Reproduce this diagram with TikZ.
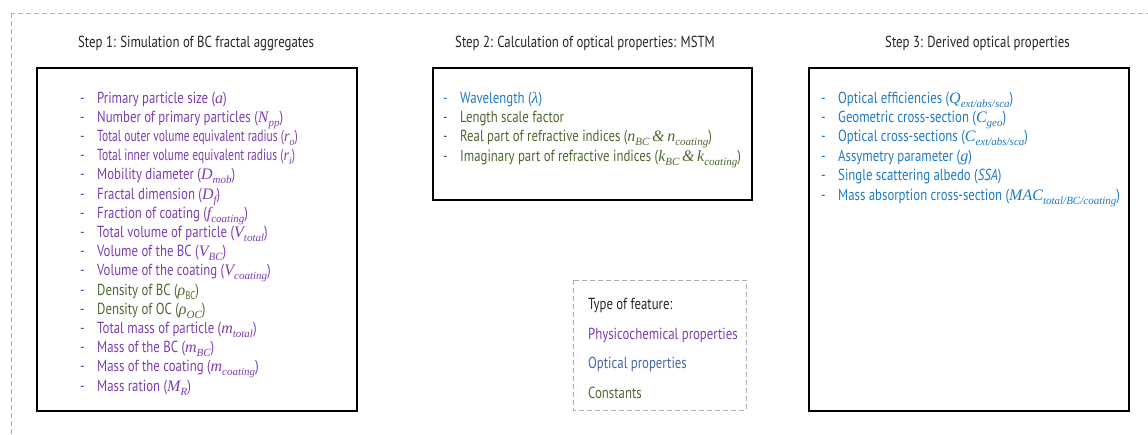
\documentclass[tikz,border=0pt]{standalone}
\usepackage{graphicx}
\usepackage{fontspec}
\setmainfont{PT Sans}[FakeStretch=0.8]
\newfontfamily\serifit{Liberation Serif}
\definecolor{pur}{RGB}{125,62,180}
\definecolor{blu}{RGB}{32,122,200}
\definecolor{grn}{RGB}{78,104,48}
\definecolor{lblu}{RGB}{68,102,172}
\definecolor{frame}{RGB}{175,175,175}
\newcommand\vr[1]{{\serifit\itshape #1}}
\newcommand\sbs[1]{\raisebox{-0.25em}{\fontsize{11}{11}\selectfont\serifit\itshape #1}}
\tikzset{
  txt/.style={anchor=base west, inner sep=0pt, font=\fontsize{16}{19}\selectfont},
  ttl/.style={txt, text=black!85},
  dsh/.style={txt},
  solidbox/.style={draw=black, line width=1.3pt},
  dashbox/.style={draw=frame, line width=1pt, dash pattern=on 5pt off 3pt},
}
\begin{document}
\begin{tikzpicture}[x=1pt,y=-1pt]
\clip (0,0) rectangle (1148,434);
\fill[white] (0,0) rectangle (1148,434);
\draw[dashbox] (11,13) rectangle (1170,460);
% boxes
\draw[solidbox] (37,68) rectangle (357,411);
\draw[solidbox] (433,68) rectangle (752,200);
\draw[solidbox] (809,68) rectangle (1129,411);
\draw[dashbox] (573,280) rectangle (746,410);
% titles
\node[ttl] (t1) at (78,47) {Step 1: Simulation of BC fractal aggregates};
\node[ttl] (t2) at (455,47) {Step 2: Calculation of optical properties: MSTM};
\node[ttl] (t3) at (885,47) {Step 3: Derived optical properties};
% box 1
\begin{scope}[every node/.append style={text=pur}]
\node[dsh] (d1) at (80,103) {-};
\node[txt] (a1) at (97,103) {Primary particle size (\vr{a})};
\node[dsh] (d2) at (80,122.2) {-};
\node[txt] (a2) at (97,122.2) {Number of primary particles (\vr{N}\sbs{pp})};
\node[dsh] (d3) at (80,141.4) {-};
\node[txt] (a3) at (97,141.4) {\scalebox{0.9}[1]{Total outer volume equivalent radius (\vr{r}\sbs{o})}};
\node[dsh] (d4) at (80,160.6) {-};
\node[txt] (a4) at (97,160.6) {\scalebox{0.9}[1]{Total inner volume equivalent radius (\vr{r}\sbs{i})}};
\node[dsh] (d5) at (80,179.8) {-};
\node[txt] (a5) at (97,179.8) {Mobility diameter (\vr{D}\sbs{mob})};
\node[dsh] (d6) at (80,199) {-};
\node[txt] (a6) at (97,199) {Fractal dimension (\vr{D}\sbs{f})};
\node[dsh] (d7) at (80,218.2) {-};
\node[txt] (a7) at (97,218.2) {Fraction of coating (\vr{f}\sbs{coating})};
\node[dsh] (d8) at (80,237.4) {-};
\node[txt] (a8) at (97,237.4) {Total volume of particle (\vr{V}\sbs{total})};
\node[dsh] (d9) at (80,256.6) {-};
\node[txt] (a9) at (97,256.6) {Volume of the BC (\vr{V}\sbs{BC})};
\node[dsh] (d10) at (80,275.8) {-};
\node[txt] (a10) at (97,275.8) {Volume of the coating (\vr{V}\sbs{coating})};
\node[dsh] (d11) at (80,295) {-};
\node[txt, text=grn] (a11) at (97,295) {Density of BC (\vr{ρ}\raisebox{-0.25em}{\fontsize{11}{11}\selectfont BC})};
\node[dsh] (d12) at (80,314.2) {-};
\node[txt, text=grn] (a12) at (97,314.2) {Density of OC (\vr{ρ}\sbs{OC})};
\node[dsh] (d13) at (80,333.4) {-};
\node[txt] (a13) at (97,333.4) {Total mass of particle (\vr{m}\sbs{total})};
\node[dsh] (d14) at (80,352.6) {-};
\node[txt] (a14) at (97,352.6) {Mass of the BC (\vr{m}\sbs{BC})};
\node[dsh] (d15) at (80,371.8) {-};
\node[txt] (a15) at (97,371.8) {Mass of the coating (\vr{m}\sbs{coating})};
\node[dsh] (d16) at (80,391) {-};
\node[txt] (a16) at (97,391) {Mass ration (\vr{M}\sbs{R})};
\end{scope}
% box 2
\begin{scope}[every node/.append style={text=grn}]
\node[dsh, text=blu] (e1) at (443,103) {-};
\node[txt, text=blu] (b1) at (460,103) {Wavelength (\vr{λ})};
\node[dsh] (e2) at (443,122.4) {-};
\node[txt] (b2) at (460,122.4) {Length scale factor};
\node[dsh] (e3) at (443,141.8) {-};
\node[txt] (b3) at (460,141.8) {Real part of refractive indices (\vr{n}\sbs{BC}\,\vr{\&}\,\vr{n}\sbs{coating})};
\node[dsh] (e4) at (443,161.2) {-};
\node[txt] (b4) at (460,161.2) {Imaginary part of refractive indices (\vr{k}\sbs{BC}\,\vr{\&}\,\vr{k}\sbs{coating})};
\end{scope}
% box 3
\begin{scope}[every node/.append style={text=blu}]
\node[dsh] (f1) at (821,103) {-};
\node[txt] (c1) at (838,103) {Optical efficiencies (\vr{Q}\sbs{ext/abs/sca})};
\node[dsh] (f2) at (821,122.4) {-};
\node[txt] (c2) at (838,122.4) {Geometric cross-section (\vr{C}\sbs{geo})};
\node[dsh] (f3) at (821,141.8) {-};
\node[txt] (c3) at (838,141.8) {Optical cross-sections (\vr{C}\sbs{ext/abs/sca})};
\node[dsh] (f4) at (821,161.2) {-};
\node[txt] (c4) at (838,161.2) {Assymetry parameter (\vr{g})};
\node[dsh] (f5) at (821,180.6) {-};
\node[txt] (c5) at (838,180.6) {Single scattering albedo (\textit{SSA})};
\node[dsh] (f6) at (821,200) {-};
\node[txt] (c6) at (838,200) {Mass absorption cross-section (\vr{MAC}\sbs{total/BC/coating})};
\end{scope}
% legend
\node[ttl] (l0) at (588,309) {Type of feature:};
\node[txt, text=pur] (l1) at (588,339) {Physicochemical properties};
\node[txt, text=lblu] (l2) at (588,368) {Optical properties};
\node[txt, text=grn] (l3) at (588,398) {Constants};
\end{tikzpicture}
\end{document}
